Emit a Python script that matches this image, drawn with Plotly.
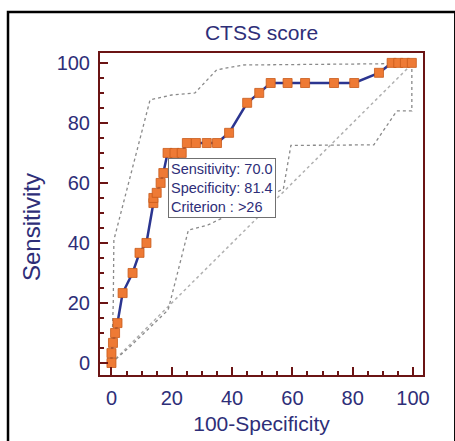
import plotly.graph_objects as go

# ROC curve points (100-Specificity, Sensitivity)
roc_x = [0, 0, 0.5, 1.2, 2.0, 3.7, 7.0, 9.3, 11.6, 13.9, 13.9, 15.0, 16.3, 17.2, 18.6, 20.9, 23.3,
         25.0, 28.0, 31.6, 35.0, 39.0, 45.0, 49.0, 52.8, 58.4, 64.2, 73.8, 80.5, 88.7, 92.9, 95.1, 97.3, 99.6]
roc_y = [0, 3.3, 6.7, 10.0, 13.3, 23.3, 30.0, 36.7, 40.0, 53.3, 55.0, 56.7, 60.0, 63.3, 70.0, 70.0, 70.0,
         73.3, 73.3, 73.3, 73.3, 76.7, 86.7, 90.0, 93.3, 93.3, 93.3, 93.3, 93.3, 96.7, 100, 100, 100, 100]

# 95% confidence bounds
upper_x = [0, 0.6, 0.8, 8.4, 12.8, 20.0, 27.7, 34.9, 43.7, 89.0, 100]
upper_y = [0, 20, 41, 70, 87.7, 89.3, 90.0, 97.7, 99.3, 99.7, 100]
lower_x = [0, 6.1, 18.8, 25.5, 32.0, 57.0, 59.5, 87.0, 94.6, 99.6, 99.6]
lower_y = [0, 5.4, 17.7, 44.3, 46.0, 58.0, 72.5, 72.7, 84.0, 84.0, 100]

diag = [0, 100]

title_text = "CTSS score"
x_title = "100-Specificity"
y_title = "Sensitivity"
crit_text = "Sensitivity: 70.0<br>Specificity: 81.4<br>Criterion : >26"
crit_point = (18.6, 70.0)

navy = "#2e2e78"
maroon = "#6b1414"
font_family = "Liberation Sans, Arial"

fig = go.Figure()
fig.add_trace(go.Scatter(x=diag, y=diag, mode="lines",
                         line=dict(color="#b0b0b0", width=1.5, dash="dot"), hoverinfo="skip"))
fig.add_trace(go.Scatter(x=upper_x, y=upper_y, mode="lines",
                         line=dict(color="#8a8a8a", width=1.3, dash="dot"), hoverinfo="skip"))
fig.add_trace(go.Scatter(x=lower_x, y=lower_y, mode="lines",
                         line=dict(color="#8a8a8a", width=1.3, dash="dot"), hoverinfo="skip"))
fig.add_trace(go.Scatter(x=roc_x, y=roc_y, mode="lines+markers",
                         line=dict(color="#2b3590", width=2.5),
                         marker=dict(symbol="square", size=9, color="#ee7a35",
                                     line=dict(color="#c85a1a", width=0.8))))

fig.add_annotation(x=crit_point[0], y=crit_point[1] - 1.6, xref="x", yref="y",
                   text=crit_text, showarrow=False, xanchor="left", yanchor="top",
                   align="left", font=dict(family=font_family, size=14.5, color=navy),
                   bordercolor="#707070", borderwidth=1, borderpad=2, bgcolor="white")

# y-axis title as rotated text
fig.add_annotation(x=-0.21, y=0.46, xref="paper", yref="paper", text=y_title, textangle=-90,
                   showarrow=False, xanchor="center", yanchor="middle",
                   font=dict(family=font_family, size=24, color=navy))

# outer black frame
fig.add_shape(type="rect", xref="paper", yref="paper",
              x0=-0.2848, x1=1.1, y0=-0.23, y1=1.127,
              line=dict(color="black", width=2.5), layer="above")

axis_common = dict(showgrid=False, zeroline=False, showline=True, linecolor=maroon, linewidth=2,
                   mirror=True, ticks="inside", ticklen=8, tickwidth=2, tickcolor=maroon,
                   dtick=20, tick0=0, automargin=False,
                   minor=dict(ticks="inside", ticklen=4, tickwidth=1.5, tickcolor=maroon, dtick=5, showgrid=False),
                   tickfont=dict(family=font_family, size=20, color=navy))

fig.update_xaxes(range=[-3.8, 103.3], ticklabelstandoff=4,
                 title=dict(text=x_title, standoff=8,
                            font=dict(family=font_family, size=21, color=navy)), **axis_common)
fig.update_yaxes(range=[-4, 103.3], ticklabelstandoff=4, **axis_common)

fig.update_layout(
    width=455, height=441,
    margin=dict(l=100, r=32, t=53, b=66),
    paper_bgcolor="white", plot_bgcolor="white",
    showlegend=False,
    title=dict(text=title_text, x=0.5, xref="paper", xanchor="center", y=1 - 33 / 441, yanchor="middle",
               font=dict(family=font_family, size=21, color=navy)),
)

fig.write_html("out.html", config={"displayModeBar": False},
               post_script="document.body.style.margin='0px';document.body.style.overflow='hidden';")
